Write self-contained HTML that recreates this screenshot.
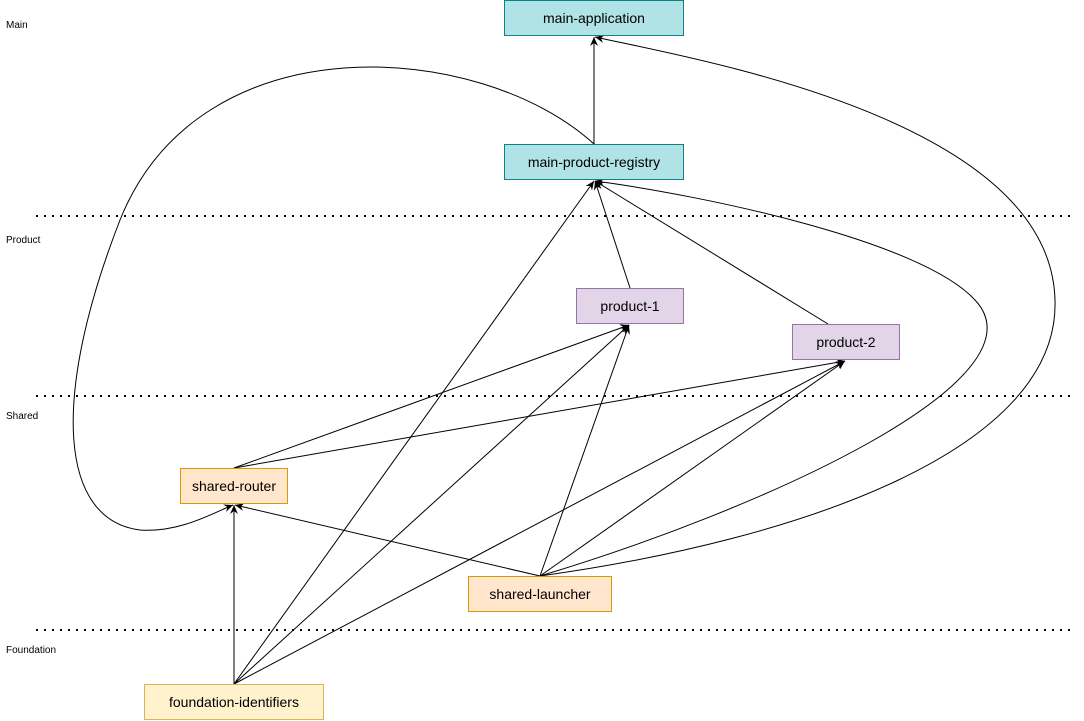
<!DOCTYPE html>
<html><head><style>
html,body{margin:0;padding:0;background:#fff;}
body{width:1084px;height:721px;position:relative;overflow:hidden;font-family:"Liberation Sans",Arial,sans-serif;}
.n{position:absolute;box-sizing:border-box;display:flex;align-items:center;justify-content:center;font-size:14px;color:#000;}
.t{background:#b0e3e6;border:1px solid #0e8088;}
.p{background:#e1d5e7;border:1px solid #9673a6;}
.s{background:#ffe6cc;border:1px solid #d79b00;}
.f{background:#fff2cc;border:1px solid #d6b656;}
.l{position:absolute;font-size:10px;left:6px;}
</style></head><body>
<svg width="1084" height="721" style="position:absolute;left:0;top:0">
<defs><marker id="a" markerWidth="10" markerHeight="10" refX="9" refY="5" orient="auto" markerUnits="userSpaceOnUse"><path d="M0,1 L9,5 L0,9 L3,5 z" fill="#000"/></marker></defs>
<g stroke="#000" stroke-width="2" stroke-dasharray="2,6" fill="none">
<line x1="36" y1="216" x2="1076" y2="216"/>
<line x1="36" y1="396" x2="1076" y2="396"/>
<line x1="36" y1="630" x2="1076" y2="630"/>
</g>
<g stroke="#000" stroke-width="1" fill="none" marker-end="url(#a)">
<path d="M594,144 L594,37"/>
<path d="M594,144 C480,40 200,20 120,220 C50,400 60,520 140,530 C180,533 215,512 233,505"/>
<path d="M540,576 C760,510 1050,380 975,300 C920,240 700,195 595,181"/>
<path d="M540,576 C800,540 1060,450 1055,300 C1050,120 700,60 595,37"/>
<path d="M630,288 L595,181"/>
<path d="M828,324 L595,181"/>
<path d="M234,468 L629,325"/>
<path d="M234,468 L845,361"/>
<path d="M234,684 L234,505"/>
<path d="M234,684 L594,181"/>
<path d="M234,684 L629,325"/>
<path d="M234,684 L845,361"/>
<path d="M540,576 L235,505"/>
<path d="M540,576 L629,325"/>
<path d="M540,576 L845,361"/>
</g>
</svg>
<div class="l" style="top:20px">Main</div>
<div class="l" style="top:235px">Product</div>
<div class="l" style="top:411px">Shared</div>
<div class="l" style="top:645px">Foundation</div>
<div class="n t" style="left:504px;top:0;width:180px;height:36px">main-application</div>
<div class="n t" style="left:504px;top:144px;width:180px;height:36px">main-product-registry</div>
<div class="n p" style="left:576px;top:288px;width:108px;height:36px">product-1</div>
<div class="n p" style="left:792px;top:324px;width:108px;height:36px">product-2</div>
<div class="n s" style="left:180px;top:468px;width:108px;height:36px">shared-router</div>
<div class="n s" style="left:468px;top:576px;width:144px;height:36px">shared-launcher</div>
<div class="n f" style="left:144px;top:684px;width:180px;height:36px">foundation-identifiers</div>
</body></html>
